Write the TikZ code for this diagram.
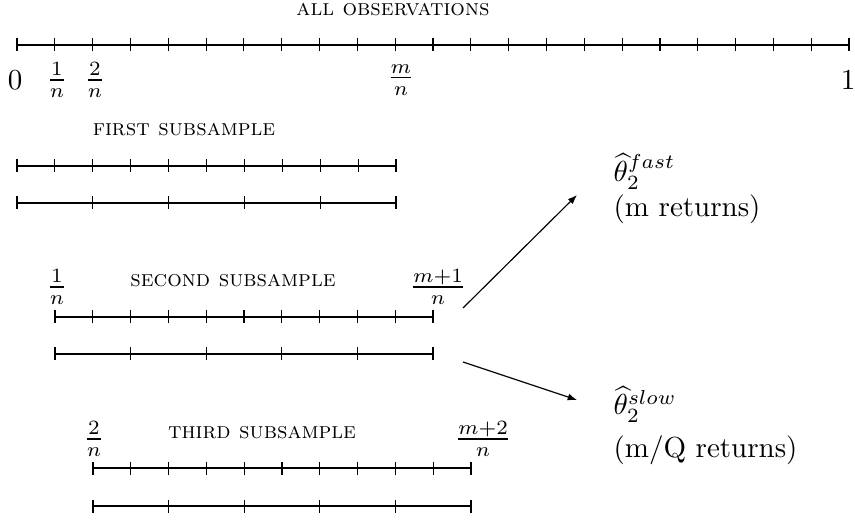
\documentclass[tikz,border=0pt]{standalone}
\usepackage{fontspec}
\usetikzlibrary{arrows.meta}
\begin{document}
\begin{tikzpicture}[x=0.345pt,y=-0.345pt,
  lbl/.style={inner sep=0pt},
  captext/.style={inner sep=0pt,font=\fontsize{7.9}{9.5}\selectfont\scshape},
  est/.style={inner sep=0pt,anchor=base west},
  conn/.style={-{Latex[length=3.2pt,width=2.4pt]},line width=0.4pt}]
\useasboundingbox (0,0) rectangle (855,521);
% rulers: start x / y / intervals / spacing
\foreach \xs/\yy/\nn/\dd in {17/45/22/37.818, 17/166/10/37.9, 17/203/5/75.8,
  55/317/10/37.8, 55/354/5/75.6, 93/468/10/37.8, 93/506/5/75.6}{
  \draw ({\xs},{\yy}) -- ({\xs+\nn*\dd},{\yy});
  \foreach \k in {0,...,\nn}
    \draw ({\xs+\k*\dd},{\yy-6.5}) -- ({\xs+\k*\dd},{\yy+6.5});
}
% labels
\node[captext] (all) at (393,10) {all observations};
\node[lbl] (zero) at (15,80) {$0$};
\node[lbl] (f1) at (57,80) {$\frac{1}{n}$};
\node[lbl] (f2) at (95,80) {$\frac{2}{n}$};
\node[lbl] (fm) at (401,80) {$\frac{m}{n}$};
\node[lbl] (one) at (848,80) {$1$};
\node[captext] (first) at (184,130) {first subsample};
\node[lbl] (s1) at (57,287) {$\frac{1}{n}$};
\node[captext] (second) at (233,281) {second subsample};
\node[lbl] (sm1) at (438,287) {$\frac{m+1}{n}$};
\node[lbl] (t2) at (94,439) {$\frac{2}{n}$};
\node[captext] (third) at (262,433) {third subsample};
\node[lbl] (tm2) at (483,439) {$\frac{m+2}{n}$};
% estimators
\node[est] (fast) at (613,182) {$\widehat{\theta}_2^{fast}$};
\node[est] (fastr) at (613,217) {(m returns)};
\node[est] (slow) at (613,415) {$\widehat{\theta}_2^{slow}$};
\node[est] (slowr) at (613,457) {(m/Q returns)};
% arrows
\coordinate (a1s) at (463,308);
\coordinate (a1e) at (577,195);
\coordinate (a2s) at (463,362);
\coordinate (a2e) at (577,400);
\draw[conn] (a1s) -- (a1e);
\draw[conn] (a2s) -- (a2e);
\end{tikzpicture}
\end{document}
